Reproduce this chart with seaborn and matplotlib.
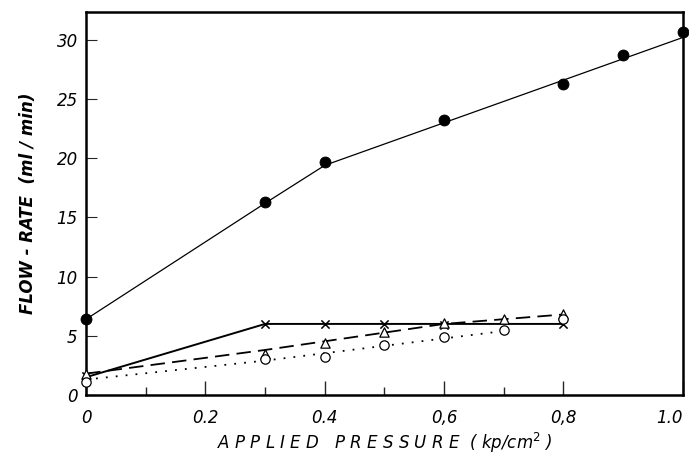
import numpy as np
import pandas as pd
import matplotlib
matplotlib.use("Agg")
import matplotlib.pyplot as plt
import seaborn as sns

pressure_main = [0.0, 0.3, 0.4, 0.6, 0.8, 0.9, 1.0]
flow_main = [6.4, 16.3, 19.7, 23.2, 26.3, 28.7, 30.7]
fit_main_x = [0.0, 0.3, 0.4, 1.0]
fit_main_y = [6.4, 16.2, 19.4, 30.2]

pressure_cross = [0.0, 0.3, 0.4, 0.5, 0.6, 0.8]
flow_cross = [1.6, 6.0, 6.0, 6.0, 5.9, 6.0]
fit_cross_x = [0.0, 0.3, 0.8]
fit_cross_y = [1.5, 6.0, 6.0]

pressure_tri = [0.0, 0.3, 0.4, 0.5, 0.6, 0.7, 0.8]
flow_tri = [1.8, 3.5, 4.4, 5.3, 6.1, 6.4, 6.8]
fit_tri_x = [0.0, 0.3, 0.6, 0.8]
fit_tri_y = [1.8, 3.8, 6.0, 6.8]

pressure_circ = [0.0, 0.3, 0.4, 0.5, 0.6, 0.7, 0.8]
flow_circ = [1.1, 3.0, 3.2, 4.2, 4.9, 5.5, 6.4]
fit_circ_x = [0.0, 0.3, 0.7]
fit_circ_y = [1.3, 2.9, 5.4]

xtick_pos = [0.0, 0.2, 0.4, 0.6, 0.8, 1.0]
xtick_labels = ["0", "0.2", "0.4", "0,6", "0,8", "1.0"]
ytick_pos = [0, 5, 10, 15, 20, 25, 30]

sns.set_style("ticks")
plt.rcParams['font.family'] = ['DejaVu Sans']

fig = plt.figure(figsize=(6.89, 4.63), dpi=100)
ax = fig.add_axes([0.125, 0.147, 0.866, 0.827])

# fitted curves
sns.lineplot(x=fit_main_x, y=fit_main_y, ax=ax, color="black", lw=0.9, sort=False)
sns.lineplot(x=fit_cross_x, y=fit_cross_y, ax=ax, color="black", lw=1.4, sort=False)
sns.lineplot(x=fit_tri_x, y=fit_tri_y, ax=ax, color="black", lw=1.3, sort=False).lines[-1].set_dashes((8, 4))
sns.lineplot(x=fit_circ_x, y=fit_circ_y, ax=ax, color="black", lw=1.3, sort=False).lines[-1].set_dashes((1, 4.5))

# markers
sns.scatterplot(x=pressure_main, y=flow_main, ax=ax, color="black", s=62,
                edgecolor="black", zorder=5, clip_on=False)
sns.scatterplot(x=pressure_cross, y=flow_cross, ax=ax, color="black", marker="x",
                s=35, linewidth=1.1, zorder=5, clip_on=False)
sns.scatterplot(x=pressure_tri, y=flow_tri, ax=ax, marker="^", s=45,
                facecolor="white", edgecolor="black", linewidth=0.9, zorder=6, clip_on=False)
sns.scatterplot(x=pressure_circ, y=flow_circ, ax=ax, marker="o", s=45,
                facecolor="white", edgecolor="black", linewidth=0.9, zorder=6, clip_on=False)

ax.set_xlim(0, 1.0)
ax.set_ylim(0, 32.35)
ax.set_xticks(xtick_pos)
ax.set_xticklabels(xtick_labels, fontstyle="italic", fontsize=12, color="black")
ax.get_xticklabels()[-1].set_horizontalalignment("right")
ax.set_xticks([0.1, 0.3, 0.5, 0.7], minor=True)
ax.set_yticks(ytick_pos)
ax.set_yticklabels([str(v) for v in ytick_pos], fontstyle="italic", fontsize=12, color="black")
ax.tick_params(axis="x", which="major", direction="in", length=10, width=1.0, pad=10)
ax.tick_params(axis="x", which="minor", direction="in", length=6, width=1.0)
ax.tick_params(axis="y", which="major", direction="in", length=8, width=0.8, pad=6)

for side in ["left", "bottom", "right", "top"]:
    ax.spines[side].set_linewidth(1.8)
    ax.spines[side].set_color("black")

ax.set_xlabel("A P P L I E D   P R E S S U R E  ( kp/cm$^2$ )", fontstyle="italic",
              fontsize=12, labelpad=3, color="black")
ax.set_ylabel("FLOW - RATE  (ml / min)", fontstyle="italic", fontsize=12,
              fontweight="bold", labelpad=14, color="black")

fig.savefig("out.png", dpi=100)
